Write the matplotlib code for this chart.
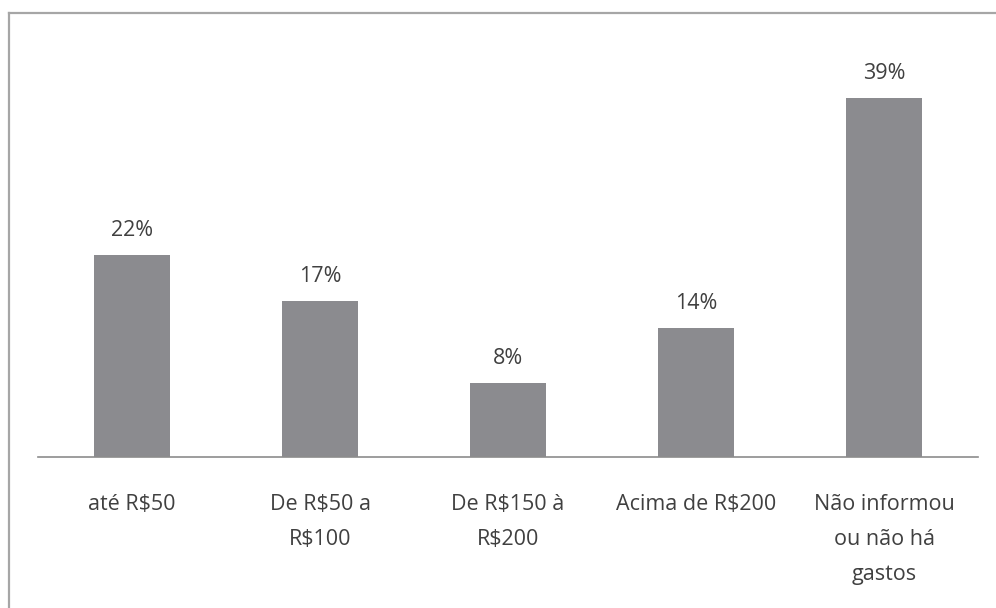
import matplotlib
matplotlib.use('Agg')
import matplotlib.pyplot as plt
from matplotlib.lines import Line2D

# dados
categorias = ['até R$50', 'De R$50 a\nR$100', 'De R$150 à\nR$200', 'Acima de R$200', 'Não informou\nou não há\ngastos']
valores = [22, 17, 8, 14, 39]
rotulos = ['22%', '17%', '8%', '14%', '39%']

plt.rcParams['font.family'] = ['Open Sans', 'DejaVu Sans']

fig = plt.figure(figsize=(9.96, 6.08), dpi=100)
ax = fig.add_axes([38 / 996, 151 / 608, 940 / 996, 405 / 608])

pos = range(len(categorias))
barras = ax.bar(pos, valores, width=0.4, color='#8b8b8f')

for b, r in zip(barras, rotulos):
    ax.annotate(r, (b.get_x() + b.get_width() / 2, b.get_height()),
                xytext=(0, 10), textcoords='offset points',
                ha='center', va='bottom', fontsize=15.5, color='#404040')

ax.set_xlim(-0.5, 4.5)
ax.set_ylim(0, 44)
ax.set_xticks(list(pos))
ax.set_xticklabels(categorias, fontsize=15.5, color='#404040', linespacing=1.85, va='top')
ax.tick_params(axis='x', length=0, pad=27)
ax.set_yticks([])

for s in ['top', 'right', 'left']:
    ax.spines[s].set_visible(False)
ax.spines['bottom'].set_color('#8c8c8c')
ax.spines['bottom'].set_linewidth(1.2)

# moldura (só topo e esquerda visiveis no recorte)
fig.add_artist(Line2D([9 / 996, 1], [1 - 13 / 608, 1 - 13 / 608], transform=fig.transFigure,
                      color='#a6a6a6', linewidth=1.6))
fig.add_artist(Line2D([9 / 996, 9 / 996], [0, 1 - 13 / 608], transform=fig.transFigure,
                      color='#a6a6a6', linewidth=1.6))

fig.savefig('out.png', dpi=100)
